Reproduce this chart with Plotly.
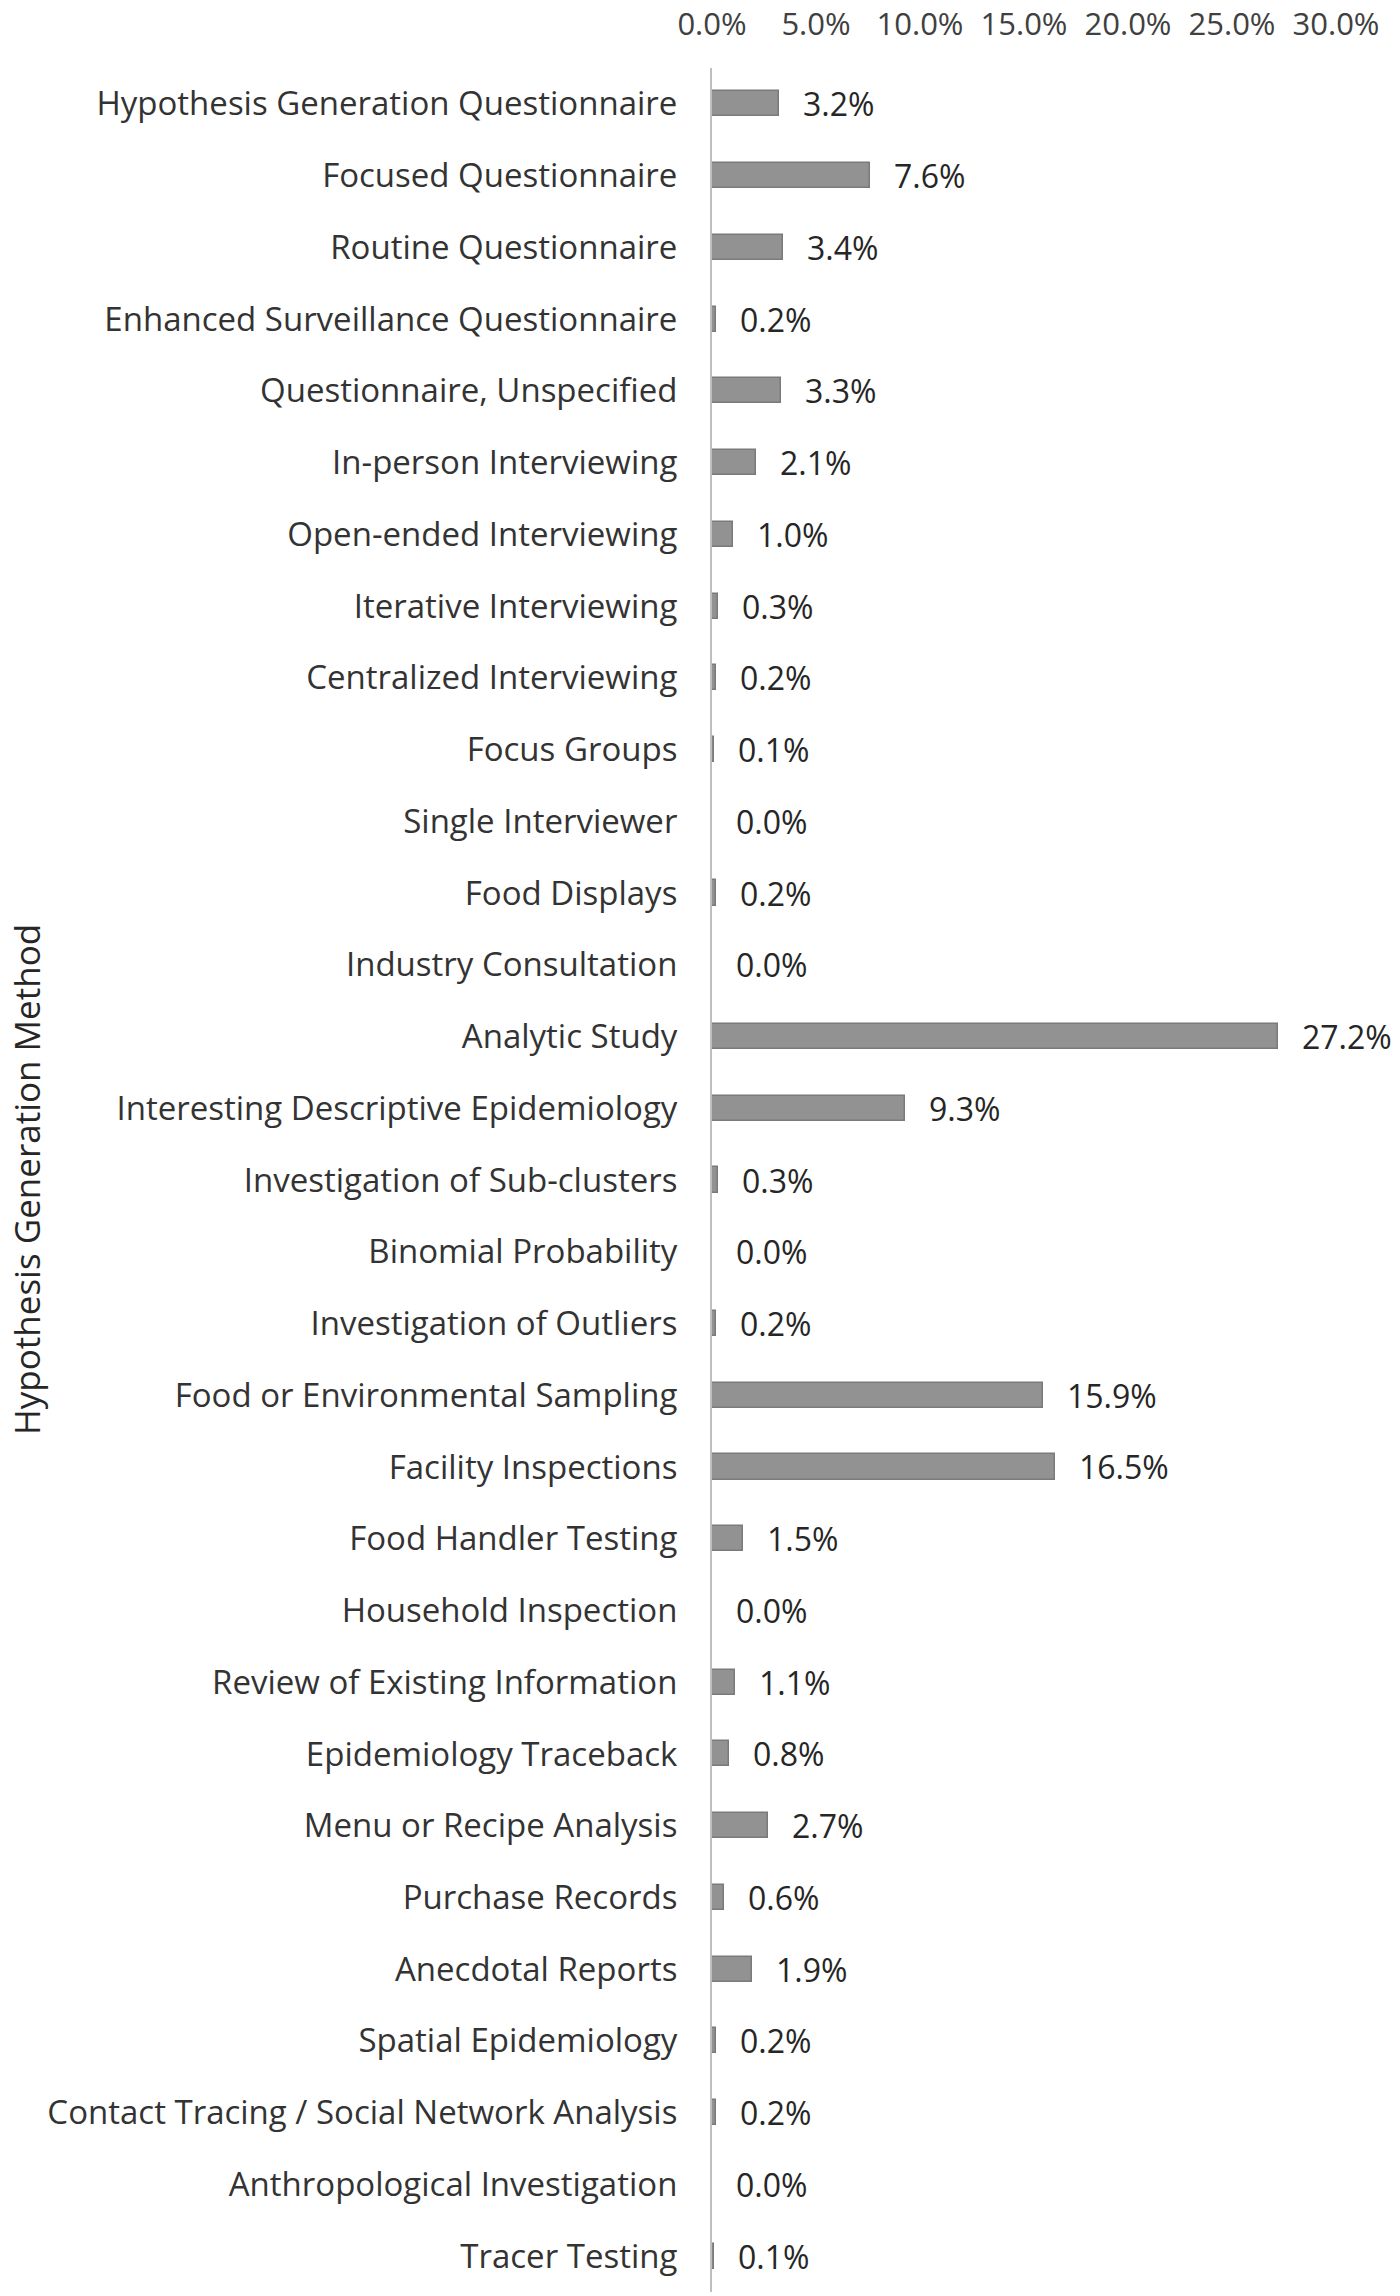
import plotly.graph_objects as go

categories = [
    "Hypothesis Generation Questionnaire",
    "Focused Questionnaire",
    "Routine Questionnaire",
    "Enhanced Surveillance Questionnaire",
    "Questionnaire, Unspecified",
    "In-person Interviewing",
    "Open-ended Interviewing",
    "Iterative Interviewing",
    "Centralized Interviewing",
    "Focus Groups",
    "Single Interviewer",
    "Food Displays",
    "Industry Consultation",
    "Analytic Study",
    "Interesting Descriptive Epidemiology",
    "Investigation of Sub-clusters",
    "Binomial Probability",
    "Investigation of Outliers",
    "Food or Environmental Sampling",
    "Facility Inspections",
    "Food Handler Testing",
    "Household Inspection",
    "Review of Existing Information",
    "Epidemiology Traceback",
    "Menu or Recipe Analysis",
    "Purchase Records",
    "Anecdotal Reports",
    "Spatial Epidemiology",
    "Contact Tracing / Social Network Analysis",
    "Anthropological Investigation",
    "Tracer Testing",
]

percent = [
    3.2, 7.6, 3.4, 0.2, 3.3, 2.1, 1.0, 0.3, 0.2, 0.1, 0.0, 0.2, 0.0, 27.2, 9.3,
    0.3, 0.0, 0.2, 15.9, 16.5, 1.5, 0.0, 1.1, 0.8, 2.7, 0.6, 1.9, 0.2, 0.2, 0.0, 0.1,
]

x_ticks = [0, 5, 10, 15, 20, 25, 30]
x_tick_labels = ["0.0%", "5.0%", "10.0%", "15.0%", "20.0%", "25.0%", "30.0%"]
axis_title = "Hypothesis Generation Method"

FONT = "Open Sans"

fig = go.Figure()
fig.add_trace(go.Bar(
    x=percent,
    y=categories,
    orientation="h",
    width=0.35,
    marker=dict(color="#929292", line=dict(color="#7a7a7a", width=1.5)),
    hoverinfo="x+y",
))

annotations = []
for c, v in zip(categories, percent):
    annotations.append(dict(
        x=v, y=c, xref="x", yref="y",
        text=f"{v:.1f}%",
        showarrow=False, xanchor="left", yanchor="middle",
        xshift=22,
        font=dict(family=FONT, size=32, color="#262626"),
    ))

L, R, T, B = 712, 64, 68, 4
W, H = 1400, 2296
plot_w = W - L - R
annotations.append(dict(
    x=-(L - 26) / plot_w, y=0.5, xref="paper", yref="paper",
    text=axis_title, textangle=-90, showarrow=False,
    xanchor="center", yanchor="middle",
    font=dict(family=FONT, size=35, color="#262626"),
))

fig.update_layout(
    width=W, height=H,
    margin=dict(l=L, r=R, t=T, b=B, autoexpand=False),
    plot_bgcolor="white", paper_bgcolor="white",
    showlegend=False,
    annotations=annotations,
    font=dict(family=FONT, size=32, color="#404040"),
    bargap=0,
)

fig.update_xaxes(
    side="top", range=[0, 30], tickvals=x_ticks, ticktext=x_tick_labels,
    showgrid=False, zeroline=False, showline=False, ticks="",
    automargin=False, ticklabelstandoff=26,
    tickfont=dict(family=FONT, size=31, color="#404040"),
)
fig.update_yaxes(
    autorange="reversed", showgrid=False, zeroline=False,
    showline=True, linecolor="#bfbfbf", linewidth=2, ticks="",
    automargin=False, ticklabelstandoff=26,
    tickfont=dict(family=FONT, size=33, color="#333333"),
)

fig.write_html(
    "out.html",
    config={"displayModeBar": False},
    post_script="document.body.style.margin='0';document.body.style.overflow='hidden';",
)
